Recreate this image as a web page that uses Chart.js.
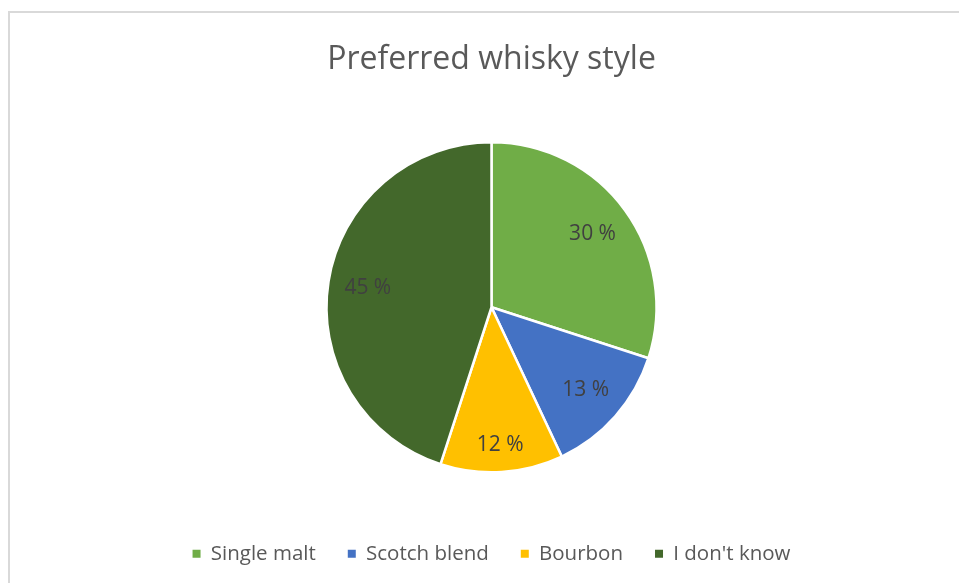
<!DOCTYPE html>
<html>
<head>
<meta charset="utf-8">
<script src="https://cdn.jsdelivr.net/npm/chart.js@4"></script>
<style>
  html, body { margin: 0; padding: 0; background: #ffffff; overflow: hidden; }
  #frame {
    position: absolute; left: 8px; top: 11px; width: 1200px; height: 800px;
    border-left: 2px solid #d9d9d9; border-top: 2px solid #d9d9d9;
  }
  #wrap { position: absolute; left: 0; top: 0; width: 959px; height: 583px; }
</style>
</head>
<body>
<div id="frame"></div>
<div id="wrap"><canvas id="chart" width="959" height="583"></canvas></div>
<script>
// Survey answers, in percent
const styles = ['Single malt', 'Scotch blend', 'Bourbon', "I don't know"];
const shares = [30, 13, 12, 45];
const sliceColors = ['#70AD47', '#4472C4', '#FFC000', '#43682B'];
const chartTitle = 'Preferred whisky style';

const FONT = "'Open Sans', 'DejaVu Sans', sans-serif";

// Percentage labels placed just inside the outer rim of each slice
const sliceLabels = {
  id: 'sliceLabels',
  afterDatasetsDraw(chart, args, opts) {
    const ctx = chart.ctx;
    const meta = chart.getDatasetMeta(0);
    const values = chart.data.datasets[0].data;
    ctx.save();
    ctx.font = opts.size + 'px ' + FONT;
    ctx.fillStyle = opts.color;
    ctx.textAlign = 'center';
    ctx.textBaseline = 'middle';
    meta.data.forEach((arc, i) => {
      const p = arc.getProps(['x', 'y', 'startAngle', 'endAngle', 'outerRadius'], true);
      const mid = (p.startAngle + p.endAngle) / 2;
      const text = values[i] + ' %';
      const w = ctx.measureText(text).width;
      const h = opts.size;
      const c = Math.cos(mid), s = Math.sin(mid);
      const extent = Math.abs(c) * w / 2 + Math.abs(s) * h / 2;
      const d = p.outerRadius - opts.inset - extent;
      ctx.fillText(text, p.x + c * d, p.y + s * d);
    });
    ctx.restore();
  }
};

const baseLabels = Chart.controllers.pie.overrides.plugins.legend.labels.generateLabels;

new Chart(document.getElementById('chart'), {
  type: 'pie',
  data: {
    labels: styles,
    datasets: [{
      data: shares,
      backgroundColor: sliceColors,
      borderColor: '#ffffff',
      borderWidth: 2.5,
      radius: 165
    }]
  },
  options: {
    responsive: false,
    animation: false,
    layout: { padding: { left: 24, right: 0, top: 0, bottom: 9 } },
    plugins: {
      tooltip: { enabled: false },
      title: {
        display: true,
        text: chartTitle,
        color: '#595959',
        font: { family: FONT, size: 32, weight: 'normal', lineHeight: 1.2 },
        padding: { top: 41, bottom: 23.6 }
      },
      legend: {
        position: 'bottom',
        labels: {
          boxWidth: 8,
          boxHeight: 8,
          padding: 32,
          color: '#595959',
          font: { family: FONT, size: 20.5 },
          // solid squares without the slice separator outline
          generateLabels(chart) {
            return baseLabels(chart).map(item => Object.assign(item, { lineWidth: 0, strokeStyle: 'rgba(0,0,0,0)' }));
          }
        }
      },
      sliceLabels: { size: 21, color: '#404040', inset: 15 }
    }
  },
  plugins: [sliceLabels]
});
</script>
</body>
</html>
